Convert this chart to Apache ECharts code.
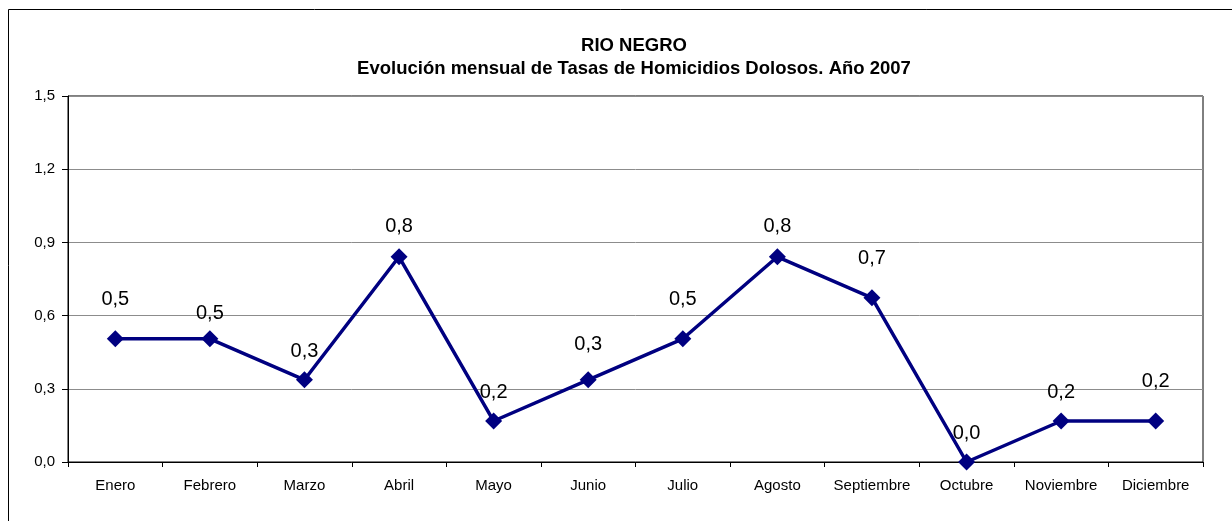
<!DOCTYPE html>
<html>
<head>
<meta charset="utf-8">
<script src="https://cdn.jsdelivr.net/npm/echarts@6/dist/echarts.min.js"></script>
<style>
  html, body { margin: 0; padding: 0; background: #fff; }
  #chart { width: 1232px; height: 521px; }
</style>
</head>
<body>
<div id="chart"></div>
<script>
// Monthly homicide rates, Río Negro 2007
const months = ['Enero', 'Febrero', 'Marzo', 'Abril', 'Mayo', 'Junio', 'Julio',
  'Agosto', 'Septiembre', 'Octubre', 'Noviembre', 'Diciembre'];
const rates = [0.505, 0.505, 0.337, 0.841, 0.168, 0.337, 0.505, 0.841, 0.673, 0.0, 0.168, 0.168];
const yTicks = [0, 0.3, 0.6, 0.9, 1.2, 1.5];

// Hand-placed value labels: how far (px) each label's centre sits above its marker
const labelRise = [40, 26, 29, 31, 29, 36, 40, 31, 40, 29, 29, 40];

const FONT = 'Arial, "Liberation Sans", sans-serif';
const fmt = v => Number(v).toFixed(1).replace('.', ',');
const MARKER = 17;

const chart = echarts.init(document.getElementById('chart'), null, { renderer: 'canvas' });

const seriesData = rates.map((v, i) => ({
  value: v,
  label: { distance: labelRise[i] - MARKER / 2 - 10.5 }
}));

chart.setOption({
  backgroundColor: '#ffffff',
  animation: false,
  graphic: [{
    type: 'rect',
    shape: { x: 8.5, y: 9.5, width: 1300, height: 600 },
    style: { fill: 'none', stroke: '#000', lineWidth: 1 },
    silent: true,
    z: -1
  }],
  title: {
    text: 'RIO NEGRO\nEvolución mensual de Tasas de Homicidios Dolosos. Año 2007',
    left: 629,
    top: 29,
    textAlign: 'center',
    textStyle: {
      fontFamily: FONT,
      fontSize: 18.5,
      fontWeight: 'bold',
      color: '#000',
      lineHeight: 23
    }
  },
  grid: {
    left: 68,
    right: 29,
    top: 96,
    bottom: 59,
    show: true,
    borderColor: '#000',
    borderWidth: 1,
    backgroundColor: 'transparent'
  },
  xAxis: {
    type: 'category',
    data: months,
    boundaryGap: true,
    axisLine: { show: true, lineStyle: { color: '#000', width: 1 } },
    axisTick: { show: true, alignWithLabel: false, length: 5, lineStyle: { color: '#000' } },
    axisLabel: {
      fontFamily: FONT,
      fontSize: 15,
      color: '#000',
      margin: 16,
      interval: 0
    },
    splitLine: { show: false }
  },
  yAxis: {
    type: 'value',
    min: yTicks[0],
    max: yTicks[yTicks.length - 1],
    interval: yTicks[1] - yTicks[0],
    axisLine: { show: true, lineStyle: { color: '#000', width: 1 } },
    axisTick: { show: true, length: 6, lineStyle: { color: '#000' } },
    axisLabel: {
      fontFamily: FONT,
      fontSize: 15,
      color: '#000',
      margin: 13,
      formatter: v => fmt(v)
    },
    splitLine: { show: true, lineStyle: { color: '#8c8c8c', width: 1 } }
  },
  series: [{
    type: 'line',
    data: seriesData,
    symbol: 'diamond',
    symbolSize: MARKER,
    lineStyle: { color: '#000080', width: 3.5 },
    itemStyle: { color: '#000080' },
    label: {
      show: true,
      position: 'top',
      fontFamily: FONT,
      fontSize: 20,
      color: '#000',
      formatter: p => fmt(p.value)
    }
  }]
});
</script>
</body>
</html>
